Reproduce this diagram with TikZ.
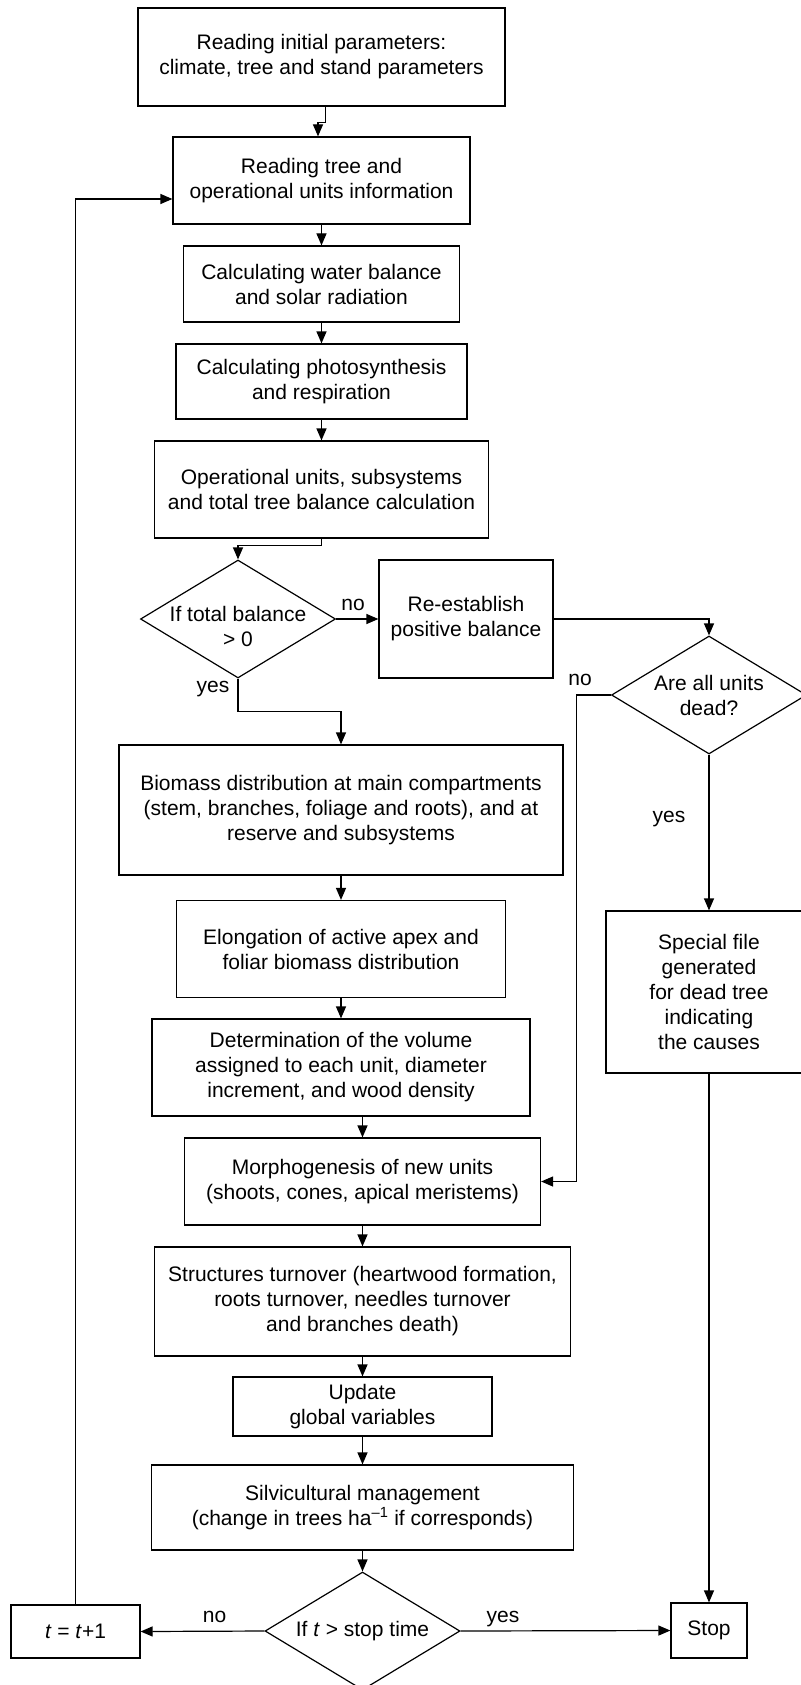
\documentclass[tikz,border=0pt]{standalone}
\usepackage{fontspec}
\setmainfont{Liberation Sans}
\usepackage{tikz}
\usetikzlibrary{shapes, arrows.meta}

\begin{document}
\begin{tikzpicture}[x=1pt, y=-1pt, font=\fontsize{21}{25}\selectfont,
    box/.style={draw, rectangle, align=center, inner sep=0pt, line width=1.2pt},
    decision/.style={draw, diamond, minimum width=195pt, minimum height=118pt, inner sep=0pt, line width=1.2pt},
    flow/.style={-{Triangle[length=12pt, width=10pt]}, line width=1.2pt}]
    \useasboundingbox (0,0) rectangle (800,1685);

    % Main column, top part
    \node[box, minimum width=367pt, minimum height=98pt] (readinit) at (321.5, 57) {Reading initial parameters:\\climate, tree and stand parameters};
    \node[box, minimum width=297pt, minimum height=87pt] (readtree) at (321.5, 180.5) {Reading tree and\\operational units information};
    \node[box, minimum width=276pt, minimum height=76pt] (water) at (321.5, 284) {Calculating water balance\\and solar radiation};
    \node[box, minimum width=291pt, minimum height=75pt] (photo) at (321.5, 381.5) {Calculating photosynthesis\\and respiration};
    \node[box, minimum width=334pt, minimum height=97pt] (balance) at (321.5, 489.5) {Operational units, subsystems\\and total tree balance calculation};

    % Balance test and the dead tree branch
    \node[decision] (ifbal) at (238, 619) {};
    \node[align=center] (ifbaltext) at (238, 626) {If total balance\\> 0};
    \node[box, minimum width=174pt, minimum height=118pt] (reest) at (466, 619) {Re-establish\\positive balance};
    \node[decision] (ifdead) at (709, 695) {};
    \node[align=center] (ifdeadtext) at (709, 695) {Are all units\\dead?};
    \node[box, minimum width=206pt, minimum height=162pt] (special) at (709, 992) {Special file\\generated\\for dead tree\\indicating\\the causes};

    % Main column, lower part
    \node[box, minimum width=444pt, minimum height=130pt] (biomass) at (341, 810) {Biomass distribution at main compartments\\(stem, branches, foliage and roots), and at\\reserve and subsystems};
    \node[box, minimum width=329pt, minimum height=97pt] (elong) at (341, 949) {Elongation of active apex and\\foliar biomass distribution};
    \node[box, minimum width=378pt, minimum height=97pt] (volume) at (341, 1067.5) {Determination of the volume\\assigned to each unit, diameter\\increment, and wood density};
    \node[box, minimum width=356pt, minimum height=87pt] (morpho) at (362.5, 1181.5) {Morphogenesis of new units\\(shoots, cones, apical meristems)};
    \node[box, minimum width=416pt, minimum height=109pt] (turnover) at (362.5, 1301.5) {Structures turnover (heartwood formation,\\roots turnover, needles turnover\\and branches death)};
    \node[box, minimum width=259pt, minimum height=59pt] (update) at (362.5, 1406.5) {Update\\global variables};
    \node[box, minimum width=422pt, minimum height=85pt] (silvi) at (362.5, 1507.5) {Silvicultural management\\(change in trees ha\textsuperscript{–1} if corresponds)};

    % Time test
    \node[decision] (iftime) at (362.5, 1631) {};
    \node (iftimetext) at (362.5, 1631) {If \textit{t} > stop time};
    \node[box, minimum width=129pt, minimum height=53pt] (tstep) at (75.5, 1631.5) {\textit{t} = \textit{t}+1};
    \node[box, minimum width=76pt, minimum height=55pt] (stop) at (709, 1630.5) {Stop};

    % Labels on the connectors
    \node[anchor=base] (no1) at (353, 610) {no};
    \node[anchor=base] (yes1) at (213, 692) {yes};
    \node[anchor=base] (no2) at (580, 685) {no};
    \node[anchor=base] (yes2) at (669, 822) {yes};
    \node[anchor=base] (no3) at (214.5, 1622) {no};
    \node[anchor=base] (yes3) at (503, 1622) {yes};

    % Connectors
    \draw[flow] ([xshift=4pt]readinit.south) -- ++(0,16) -| ([xshift=-3.5pt]readtree.north);
    \draw[flow] (readtree) -- (water);
    \draw[flow] (water) -- (photo);
    \draw[flow] (photo) -- (balance);
    \draw[flow] (balance.south) -- ++(0,7) -| (ifbal.north);
    \draw[flow] (ifbal.east) -- (reest.west);
    \draw[flow] (reest.east) -| (ifdead.north);
    \draw[flow] (ifbal.south) -- ++(0,33) -| (biomass.north);
    \draw[flow] (biomass) -- (elong);
    \draw[flow] (elong) -- (volume);
    \draw[flow] (volume.south -| morpho.north) -- (morpho.north);
    \draw[flow] (morpho) -- (turnover);
    \draw[flow] (turnover) -- (update);
    \draw[flow] (update) -- (silvi);
    \draw[flow] (silvi) -- (iftime);
    \draw[flow] (iftime.west) -- (tstep.east);
    \draw[flow] (iftime.east) -- (stop.west);
    \draw[flow] (tstep.north) |- ([yshift=-18.5pt]readtree.west);
    \draw[flow] (ifdead.west) -- ++(-34.5,0) |- (morpho.east);
    \draw[flow] (ifdead.south) -- (special.north);
    \draw[flow] (special.south) -- (stop.north);
\end{tikzpicture}
\end{document}
